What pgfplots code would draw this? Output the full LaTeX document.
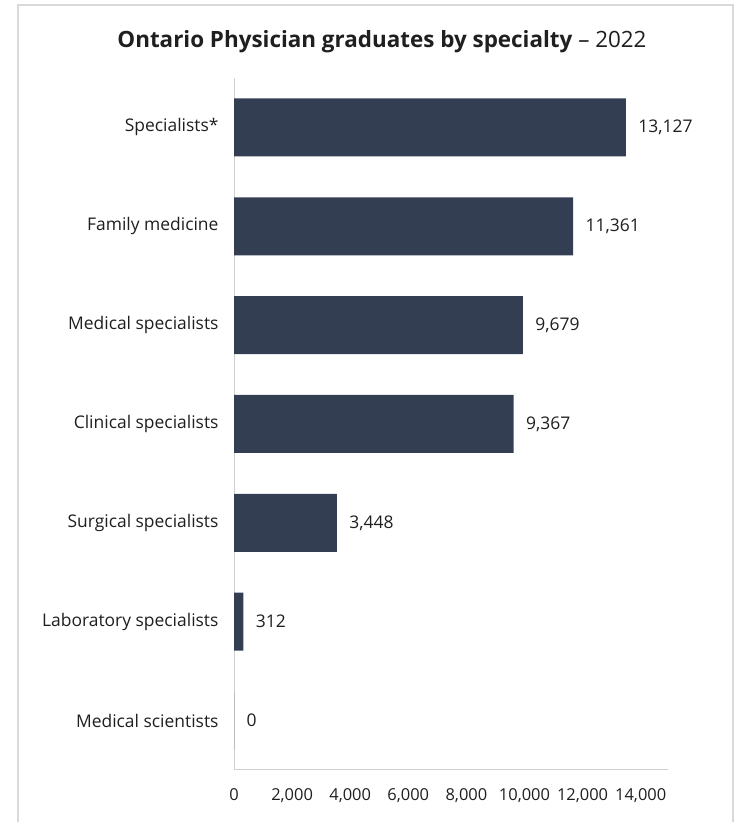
\documentclass[border=0pt]{standalone}
\usepackage{fontspec}
\setmainfont{Open Sans}
\usepackage{pgfplots}
\pgfplotsset{compat=1.18}
\definecolor{barc}{HTML}{333E53}
\definecolor{txt}{HTML}{1F1F1F}
\definecolor{axl}{HTML}{D0D0D0}
\definecolor{frame}{HTML}{D9D9D9}
\begin{document}
\begin{tikzpicture}[x=1bp,y=1bp]
\useasboundingbox (0,0) rectangle (737,822);
\begin{scope}
\clip (0,0) rectangle (737,822);
\draw[color=frame, line width=1.2bp] (18,-20) rectangle (733,817);
\end{scope}
\node[text=txt, font=\fontsize{22.5}{26}\selectfont] at (382,780) {\textbf{Ontario Physician graduates by specialty} – 2022};
\begin{axis}[
  at={(234bp,52bp)}, anchor=south west,
  scale only axis, width=434bp, height=692bp,
  xbar, bar width=58bp,
  xmin=0, xmax=14540, ymin=-0.5, ymax=6.5,
  axis lines*=left,
  axis line style={axl, line width=1bp},
  major tick length=0,
  ytick={0,...,6},
  yticklabels={Medical scientists, Laboratory specialists, Surgical specialists, Clinical specialists, Medical specialists, {Family medicine\hspace{5bp}}, Specialists*},
  xtick={0,2000,...,14000},
  /pgf/number format/assume math mode=true,
  /pgf/number format/1000 sep={,},
  scaled x ticks=false,
  yticklabel style={text=txt, font=\fontsize{17.5}{20}\selectfont, xshift=-12bp},
  xticklabel style={text=txt, font=\fontsize{16.5}{19}\selectfont, yshift=-15bp, xshift={-1.6*\ticknum bp}},
  nodes near coords,
  point meta=x,
  nodes near coords style={anchor=west, xshift=9bp, text=txt, font=\fontsize{17.5}{20}\selectfont},
  clip=false,
]
\addplot[fill=barc, draw=none] coordinates {
  (0,0) (312,1) (3448,2) (9367,3) (9679,4) (11361,5) (13127,6)
};
\end{axis}
\end{tikzpicture}
\end{document}
